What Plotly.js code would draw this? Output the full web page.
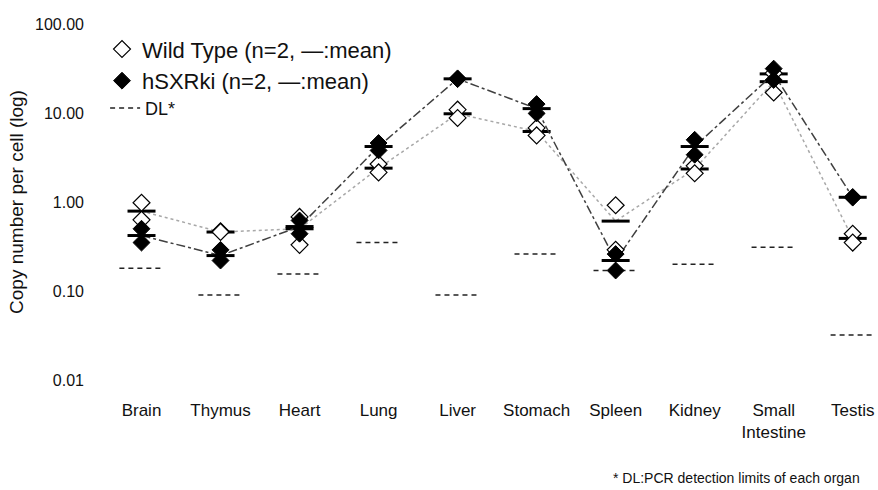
<!DOCTYPE html>
<html><head><meta charset="utf-8">
<script src="https://cdn.plot.ly/plotly-3.0.1.min.js"></script>
<style>html,body{margin:0;padding:0;background:#fff}#chart{width:878px;height:490px}</style>
</head><body><div id="chart"></div>
<script>
// ---- data ----
const organs = ['Brain','Thymus','Heart','Lung','Liver','Stomach','Spleen','Kidney','Small<br>Intestine','Testis'];
const wtRep1   = [0.98, 0.47, 0.33, 2.67, 10.9, 6.8, 0.92, 2.55, 17.0, 0.44];
const wtRep2   = [0.63, 0.46, 0.68, 2.15, 8.8, 5.6, 0.29, 2.10, 28.0, 0.35];
const wtMean   = [0.79, 0.46, 0.50, 2.40, 9.8, 6.2, 0.61, 2.35, 22.5, 0.39];
const koRep1   = [0.50, 0.29, 0.62, 4.6, 24.5, 12.6, 0.26, 5.0, 31.5, 1.14];
const koRep2   = [0.35, 0.22, 0.44, 3.8, 24.0, 9.9, 0.17, 3.4, 23.5, 1.12];
const koMean   = [0.42, 0.25, 0.53, 4.2, 24.2, 11.2, 0.22, 4.2, 27.5, 1.13];
const detectionLimit = [0.18, 0.09, 0.155, 0.35, 0.09, 0.26, 0.17, 0.20, 0.31, 0.032];
const yTickVals = [0.01, 0.1, 1, 10, 100];
const yTickText = ['0.01', '0.10', '1.00', '10.00', '100.00'];

const idx = organs.map((_, i) => i);
const FONT = 'Arial, "Liberation Sans", sans-serif';

// detection-limit short segments around each category
const dlX = [], dlY = [];
idx.forEach((i) => { dlX.push(i - 0.28, i + 0.28, null); dlY.push(detectionLimit[i], detectionLimit[i], null); });

const traces = [
  { // DL segments
    x: dlX, y: dlY, mode: 'lines', name: 'DL*', legend: 'legend2',
    line: { color: '#222', width: 1.5, dash: '5px,4px' }, hoverinfo: 'skip'
  },
  { // WT mean line + mean bars
    x: idx, y: wtMean, mode: 'lines+markers', showlegend: false,
    line: { color: '#a8a8a8', width: 1.5, dash: 'dot' },
    marker: { symbol: 'line-ew', size: 20, color: '#000', line: { color: '#000', width: 3 } }
  },
  { // hSXRki mean line + mean bars
    x: idx, y: koMean, mode: 'lines+markers', showlegend: false,
    line: { color: '#404040', width: 1.5, dash: 'dashdot' },
    marker: { symbol: 'line-ew', size: 20, color: '#000', line: { color: '#000', width: 3 } }
  },
  { // WT points
    x: idx.concat(idx), y: wtRep1.concat(wtRep2), mode: 'markers',
    name: 'Wild Type (n=2, \u2014:mean)', legendgroup: 'wt',
    marker: { symbol: 'diamond', size: 13, color: '#fff', line: { color: '#000', width: 1.2 } }
  },
  { // hSXRki points
    x: idx.concat(idx), y: koRep1.concat(koRep2), mode: 'markers',
    name: 'hSXRki (n=2, \u2014:mean)', legendgroup: 'ko',
    marker: { symbol: 'diamond', size: 13, color: '#000', line: { color: '#000', width: 1 } }
  }
];

const layout = {
  width: 878, height: 490,
  margin: { l: 102, r: 0, t: 24, b: 110 },
  paper_bgcolor: '#fff', plot_bgcolor: '#fff',
  font: { family: FONT, color: '#111' },
  showlegend: true,
  xaxis: {
    range: [-0.5, 9.32], tickvals: idx, ticktext: organs,
    showgrid: false, zeroline: false, showline: false, ticks: '',
    tickfont: { size: 17, family: FONT, color: '#111' }, ticklabelstandoff: 18
  },
  yaxis: {
    type: 'log', range: [-2, 2], tickvals: yTickVals, ticktext: yTickText,
    showgrid: false, zeroline: false, showline: false, ticks: '',
    tickfont: { size: 16, family: FONT, color: '#111' }, ticklabelstandoff: 17,
    title: { text: 'Copy number per cell (log)', font: { size: 19, family: FONT, color: '#111' }, standoff: 6 }
  },
  legend: {
    x: 0.0, y: 0.988, xanchor: 'left', yanchor: 'top',
    bgcolor: 'rgba(0,0,0,0)', font: { size: 22, family: FONT, color: '#111' },
    traceorder: 'normal', tracegroupgap: 0
  },
  legend2: {
    x: 0.004, y: 0.815, xanchor: 'left', yanchor: 'top',
    bgcolor: 'rgba(0,0,0,0)', font: { size: 18, family: FONT, color: '#111' }
  },
  annotations: [{
    text: '* DL:PCR detection limits of each organ', xref: 'paper', yref: 'paper',
    x: 0.98, y: -0.275, xanchor: 'right', yanchor: 'middle', showarrow: false,
    font: { size: 14, family: FONT, color: '#111' }
  }]
};

Plotly.newPlot('chart', traces, layout, { displayModeBar: false, staticPlot: true });
</script>
</body></html>
